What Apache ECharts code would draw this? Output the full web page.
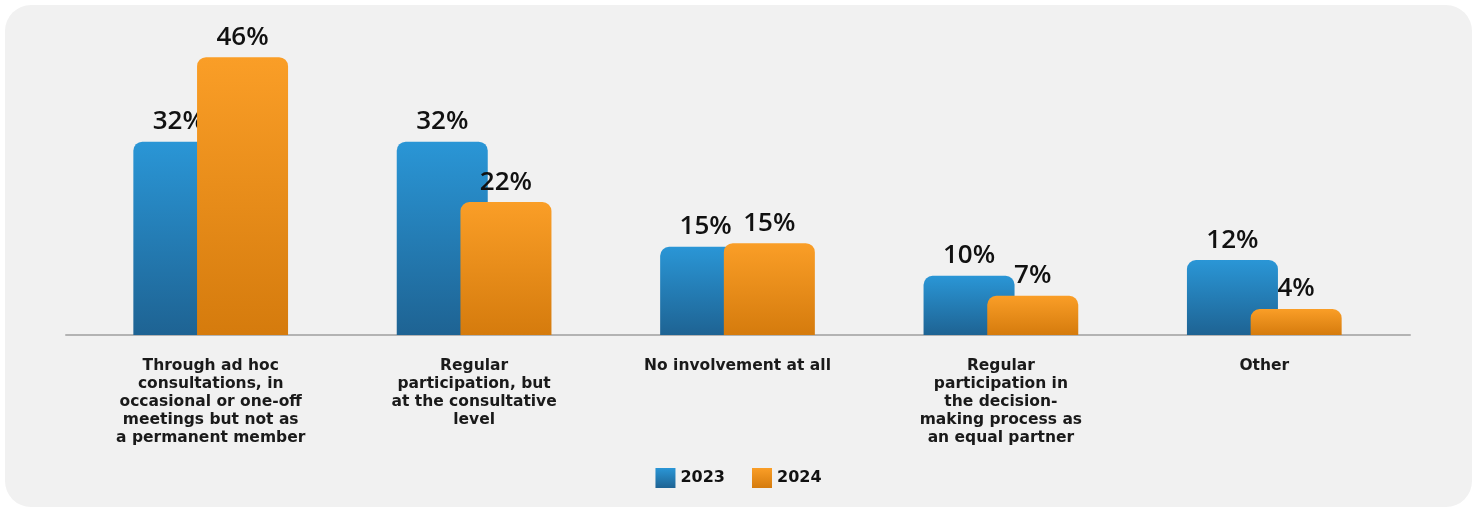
<!DOCTYPE html>
<html><head><meta charset="utf-8">
<script src="https://cdn.jsdelivr.net/npm/echarts@6/dist/echarts.min.js"></script>
<style>
html,body{margin:0;padding:0;background:#fff;width:1477px;height:510px;overflow:hidden}
#bg{position:absolute;left:5px;top:5px;width:1467px;height:502px;background:#f1f1f1;border-radius:26px}
#c{position:absolute;left:0;top:0;width:1477px;height:510px}
</style></head>
<body><div id="bg"></div><div id="c"></div>
<script>
const categories = [
  "Through ad hoc\nconsultations, in\noccasional or one-off\nmeetings but not as\na permanent member",
  "Regular\nparticipation, but\nat the consultative\nlevel",
  "No involvement at all",
  "Regular\nparticipation in\nthe decision-\nmaking process as\nan equal partner",
  "Other"
];
const seriesNames = ["2023", "2024"];
const values2023 = [32, 32, 14.6, 9.8, 12.4];
const values2024 = [46, 22, 15.2, 6.5, 4.3];

const chart = echarts.init(document.getElementById('c'), null, {renderer:'canvas'});
function grad(top, bottom){
  return new echarts.graphic.LinearGradient(0,0,0,1,[{offset:0,color:top},{offset:1,color:bottom}]);
}
const blue = grad('#2a96d6', '#1e6393');
const orange = grad('#fa9e27', '#d57b0d');
const labelCfg = {
  show:true, position:'top', distance:7,
  formatter: p => Math.round(p.value) + '%',
  fontFamily:'Open Sans', fontWeight:600, fontSize:26, color:'#111'
};
chart.setOption({
  animation:false,
  backgroundColor:'transparent',
  grid:[
    {left:79, right:81, top:33, bottom:175},
    {left:66, right:67, top:33, bottom:175}
  ],
  legend:{
    top:463, left:'center', itemWidth:20, itemHeight:20, itemGap:27, icon:'rect',
    data:seriesNames,
    textStyle:{fontFamily:'DejaVu Sans', fontWeight:'bold', fontSize:16, color:'#111'}
  },
  xAxis:[
    {type:'category', data:categories, gridIndex:0,
     axisLine:{show:false}, axisTick:{show:false},
     axisLabel:{interval:0, margin:22, lineHeight:18, fontFamily:'DejaVu Sans', fontWeight:'bold', fontSize:15.5, color:'#1a1a1a'}},
    {type:'category', data:categories, gridIndex:1,
     axisLine:{show:true, lineStyle:{color:'#b3b3b3', width:2}}, axisTick:{show:false}, axisLabel:{show:false}}
  ],
  yAxis:[
    {type:'value', min:0, max:50, gridIndex:0, show:false, splitLine:{show:false}},
    {type:'value', min:0, max:50, gridIndex:1, show:false, splitLine:{show:false}}
  ],
  series:[
    {name:seriesNames[0], type:'bar', data:values2023, barWidth:91, barGap:'-30%',
     itemStyle:{color:blue, borderRadius:[9,9,0,0]}, label:labelCfg, z:2},
    {name:seriesNames[1], type:'bar', data:values2024, barWidth:91, barGap:'-30%',
     itemStyle:{color:orange, borderRadius:[9,9,0,0]}, label:labelCfg, z:3}
  ]
});
</script></body></html>
